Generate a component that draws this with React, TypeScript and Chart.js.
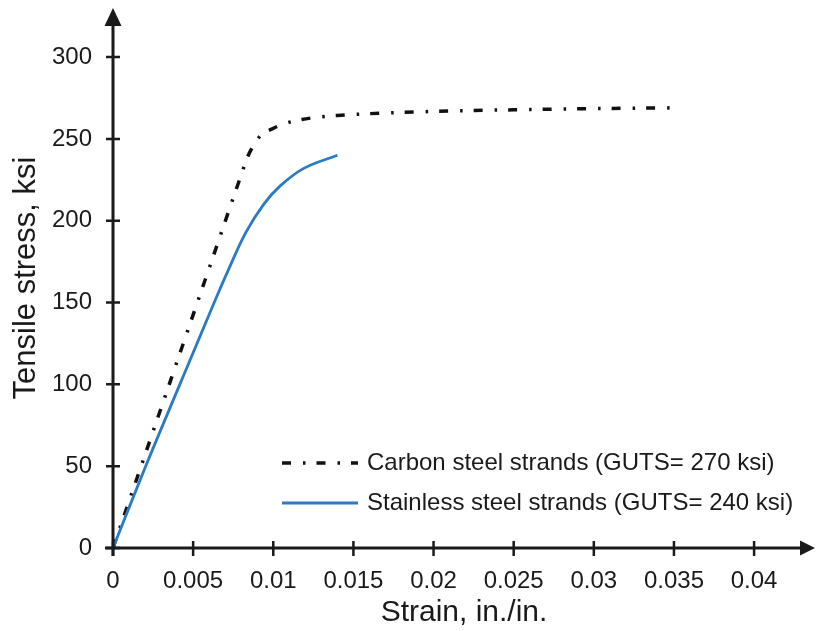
import React, { useEffect, useRef } from "react";
import { Chart, registerables } from "chart.js";

Chart.register(...registerables);

// ---- data ----
const carbonStrain = [0, 0.002, 0.004, 0.006, 0.008, 0.0084, 0.0088, 0.0092, 0.0099, 0.0106, 0.0116, 0.0127, 0.014, 0.0155, 0.0175, 0.02, 0.025, 0.03, 0.035];
const carbonStress = [0, 57, 114, 171, 228, 239, 246.5, 252, 256, 259, 261.5, 263.2, 264.3, 265.2, 266, 266.8, 267.8, 268.5, 269];

const stainlessStrain = [0, 0.002, 0.004, 0.0055, 0.0064, 0.0072, 0.0083, 0.0094, 0.0104, 0.0119, 0.014];
const stainlessStress = [0, 49, 96, 131, 152, 170, 193, 210, 221, 232, 240];

const xTicks = [0, 0.005, 0.01, 0.015, 0.02, 0.025, 0.03, 0.035, 0.04];
const yTicks = [0, 50, 100, 150, 200, 250, 300];

const carbonLabel = "Carbon steel strands (GUTS= 270 ksi)";
const stainlessLabel = "Stainless steel strands (GUTS= 240 ksi)";
const xTitle = "Strain, in./in.";
const yTitle = "Tensile stress, ksi";

const FONT = "'Liberation Sans', Arial, Helvetica, sans-serif";
const INK = "#1a1a1a";
const BLUE = "#2b7bc3";

const axesPlugin = {
  id: "arrowAxes",
  afterDraw(chart: any) {
    const { ctx, chartArea, scales } = chart;
    const xs = scales.x;
    const ys = scales.y;
    const x0 = xs.getPixelForValue(0);
    const y0 = ys.getPixelForValue(0);
    ctx.save();
    ctx.strokeStyle = INK;
    ctx.fillStyle = INK;
    ctx.lineCap = "butt";
    // axis lines
    ctx.lineWidth = 3;
    ctx.beginPath();
    ctx.moveTo(x0, y0 + 8);
    ctx.lineTo(x0, chartArea.top + 14);
    ctx.moveTo(x0 - 8, y0);
    ctx.lineTo(chartArea.right - 12, y0);
    ctx.stroke();
    // arrow heads
    ctx.beginPath();
    ctx.moveTo(x0, chartArea.top);
    ctx.lineTo(x0 - 8.5, chartArea.top + 18);
    ctx.lineTo(x0 + 8.5, chartArea.top + 18);
    ctx.closePath();
    ctx.fill();
    ctx.beginPath();
    ctx.moveTo(chartArea.right, y0);
    ctx.lineTo(chartArea.right - 15, y0 - 7.5);
    ctx.lineTo(chartArea.right - 15, y0 + 7.5);
    ctx.closePath();
    ctx.fill();
    // tick marks crossing the axes
    ctx.lineWidth = 2.5;
    ctx.beginPath();
    for (const t of ys.ticks) {
      const py = ys.getPixelForValue(t.value);
      ctx.moveTo(x0 - 7, py);
      ctx.lineTo(x0 + 7, py);
    }
    for (const t of xs.ticks) {
      const px = xs.getPixelForValue(t.value);
      ctx.moveTo(px, y0 - 7);
      ctx.lineTo(px, y0 + 8);
    }
    ctx.stroke();

    // legend
    const rows = [
      { ds: chart.data.datasets[0], y: 463 },
      { ds: chart.data.datasets[1], y: 503 },
    ];
    const lx0 = 282;
    const lx1 = 358;
    for (const r of rows) {
      ctx.save();
      ctx.strokeStyle = r.ds.borderColor;
      ctx.lineWidth = r.ds.borderWidth;
      ctx.setLineDash(r.ds.borderDash || []);
      ctx.beginPath();
      ctx.moveTo(lx0, r.y);
      ctx.lineTo(lx1, r.y);
      ctx.stroke();
      ctx.restore();
      ctx.fillStyle = INK;
      ctx.font = `24px ${FONT}`;
      ctx.textAlign = "left";
      ctx.textBaseline = "middle";
      ctx.fillText(r.ds.label, 367, r.y);
    }
    ctx.restore();
  },
};

export default function App() {
  const ref = useRef<HTMLCanvasElement | null>(null);

  useEffect(() => {
    document.body.style.margin = "0";
    const canvas = ref.current;
    if (!canvas) return;
    const chart = new Chart(canvas, {
      type: "line",
      data: {
        datasets: [
          {
            label: carbonLabel,
            data: carbonStrain.map((x, i) => ({ x, y: carbonStress[i] })),
            borderColor: "#111111",
            borderWidth: 3.5,
            borderDash: [9, 12, 2.5, 11],
            pointRadius: 0,
            fill: false,
            cubicInterpolationMode: "monotone",
            order: 1,
          },
          {
            label: stainlessLabel,
            data: stainlessStrain.map((x, i) => ({ x, y: stainlessStress[i] })),
            borderColor: BLUE,
            borderWidth: 2.8,
            pointRadius: 0,
            fill: false,
            tension: 0.4,
            order: 0,
          },
        ],
      },
      options: {
        animation: false,
        responsive: false,
        maintainAspectRatio: false,
        layout: { padding: { left: 0, right: 1, top: 8, bottom: 0 } },
        plugins: {
          legend: { display: false },
          tooltip: { enabled: false },
        },
        scales: {
          x: {
            type: "linear",
            min: 0,
            max: 0.0438,
            grid: { display: false, drawTicks: false },
            border: { display: false },
            afterBuildTicks: (s: any) => {
              s.ticks = xTicks.map((v) => ({ value: v }));
            },
            afterFit: (s: any) => {
              s.height = 83;
              s.paddingLeft = 0;
              s.paddingRight = 0;
            },
            ticks: {
              autoSkip: false,
              maxRotation: 0,
              padding: 19,
              color: INK,
              font: { family: FONT, size: 24 },
              callback: (v: any) => String(v),
            },
            title: {
              display: true,
              text: xTitle,
              color: INK,
              font: { family: FONT, size: 30 },
              padding: { top: 0, bottom: 0 },
            },
          },
          y: {
            type: "linear",
            min: 0,
            max: 330,
            grid: { display: false, drawTicks: false },
            border: { display: false },
            afterBuildTicks: (s: any) => {
              s.ticks = yTicks.map((v) => ({ value: v }));
            },
            afterFit: (s: any) => {
              s.width = 113;
              s.paddingTop = 0;
              s.paddingBottom = 0;
            },
            ticks: {
              autoSkip: false,
              padding: 21,
              color: INK,
              font: { family: FONT, size: 24 },
              callback: (v: any) => String(v),
            },
            title: {
              display: true,
              text: yTitle,
              color: INK,
              font: { family: FONT, size: 31 },
              padding: { top: 8, bottom: 0 },
            },
          },
        },
      },
      plugins: [axesPlugin],
    } as any);
    return () => chart.destroy();
  }, []);

  return (
    <div style={{ width: 816, height: 631, background: "#fff" }}>
      <canvas ref={ref} width={816} height={631} style={{ display: "block" }} />
    </div>
  );
}
